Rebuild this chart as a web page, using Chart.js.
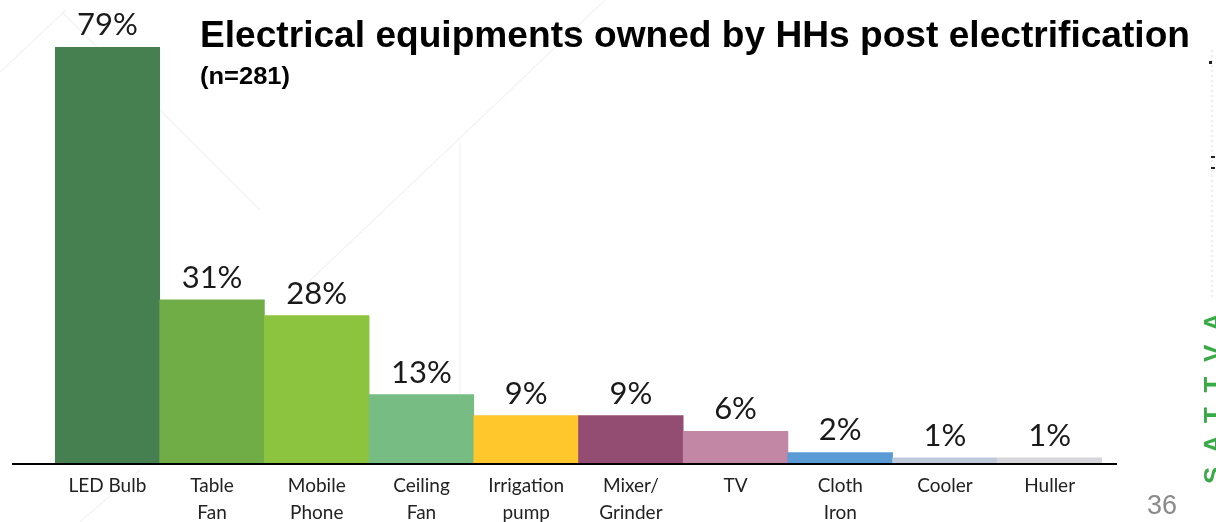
<!DOCTYPE html>
<html>
<head>
<meta charset="utf-8">
<script src="https://cdn.jsdelivr.net/npm/chart.js"></script>
<style>
  html, body { margin: 0; padding: 0; background: #fff; }
  #wrap { width: 1216px; height: 522px; }
</style>
</head>
<body>
<div id="wrap"><canvas id="equip" width="1216" height="522"></canvas></div>
<script>
var items = [['LED Bulb'], ['Table', 'Fan'], ['Mobile', 'Phone'], ['Ceiling', 'Fan'], ['Irrigation', 'pump'],
             ['Mixer/', 'Grinder'], ['TV'], ['Cloth', 'Iron'], ['Cooler'], ['Huller']];
var owned = [79, 31, 28, 13, 9, 9, 6, 2, 1, 1];
var barColors = ['#467F50', '#70AD47', '#8CC43F', '#77BD83', '#FFC72C', '#944D72', '#C287A5', '#5B9BD5', '#BFC9D9', '#D5D5DA'];

var titleText = 'Electrical equipments owned by HHs post electrification';
var subText = '(n=281)';

// faint slide watermark lines behind everything
var backdrop = {
  id: 'backdrop',
  beforeDraw: function (chart) {
    var c = chart.ctx;
    c.save();
    c.fillStyle = '#fff';
    c.fillRect(0, 0, chart.width, chart.height);
    c.strokeStyle = 'rgba(0,0,0,0.05)';
    c.lineWidth = 1.2;
    c.beginPath();
    c.moveTo(0, 72); c.lineTo(66, 10);
    c.moveTo(62, 12); c.lineTo(260, 210);
    c.moveTo(300, 290); c.lineTo(605, 0);
    c.moveTo(460, 142); c.lineTo(460, 463);
    c.moveTo(80, 522); c.lineTo(140, 470);
    c.stroke();
    c.setLineDash([2, 3]);
    c.strokeStyle = 'rgba(0,0,0,0.12)';
    c.beginPath();
    c.moveTo(1212, 50); c.lineTo(1212, 300);
    c.stroke();
    c.restore();
  }
};

var decor = {
  id: 'decor',
  afterDraw: function (chart) {
    var c = chart.ctx;
    var area = chart.chartArea;
    c.save();

    // baseline
    c.strokeStyle = '#000';
    c.lineWidth = 2;
    c.beginPath();
    c.moveTo(12, area.bottom + 1);
    c.lineTo(1117, area.bottom + 1);
    c.stroke();

    // value labels above bars
    c.fillStyle = '#1a1a1a';
    c.font = '31px Lato';
    c.textAlign = 'center';
    c.textBaseline = 'alphabetic';
    chart.getDatasetMeta(0).data.forEach(function (bar, i) {
      c.fillText(owned[i] + '%', bar.x, bar.y - 12);
    });

    // heading, narrowed like the slide font
    c.textAlign = 'left';
    c.fillStyle = '#000';
    c.font = 'bold 37px "Liberation Sans"';
    var w = c.measureText(titleText).width;
    c.save();
    c.translate(200, 47);
    c.scale(990 / w, 1);
    c.fillText(titleText, 0, 0);
    c.restore();

    c.font = 'bold 24px "Liberation Sans"';
    var w2 = c.measureText(subText).width;
    c.save();
    c.translate(200, 84);
    c.scale(90 / w2, 1);
    c.fillText(subText, 0, 0);
    c.restore();

    // page number
    c.fillStyle = '#8a8a8a';
    c.font = '27px "Liberation Sans"';
    c.fillText('36', 1147, 514);

    // vertical logo, clipped by the right edge
    c.save();
    c.translate(1216, 484);
    c.rotate(-Math.PI / 2);
    c.fillStyle = '#3AAA48';
    c.font = 'bold 26px "Liberation Sans"';
    var letters = 'SATTVA';
    for (var k = 0; k < letters.length; k++) {
      c.fillText(letters[k], k * 30.5, 6);
    }
    c.restore();

    c.fillStyle = '#222';
    c.fillRect(1209, 61, 3, 3);
    c.fillRect(1211, 156, 4, 2);
    c.fillRect(1211, 167, 4, 2);

    c.restore();
  }
};

new Chart(document.getElementById('equip').getContext('2d'), {
  type: 'bar',
  data: {
    labels: items,
    datasets: [{
      data: owned,
      backgroundColor: barColors,
      borderWidth: 0,
      barPercentage: 1,
      categoryPercentage: 1
    }]
  },
  options: {
    responsive: false,
    animation: false,
    events: [],
    layout: { padding: { top: 47, left: 55, right: 114, bottom: 0 } },
    plugins: { legend: { display: false }, tooltip: { enabled: false }, title: { display: false } },
    scales: {
      y: { display: false, min: 0, max: 79 },
      x: {
        grid: { display: false, drawTicks: false },
        border: { display: false },
        afterFit: function (axis) { axis.height = 59; },
        ticks: {
          color: '#222',
          font: { family: 'Lato', size: 19, lineHeight: 1.4 },
          maxRotation: 0,
          autoSkip: false,
          padding: 10
        }
      }
    }
  },
  plugins: [backdrop, decor]
});
</script>
</body>
</html>
